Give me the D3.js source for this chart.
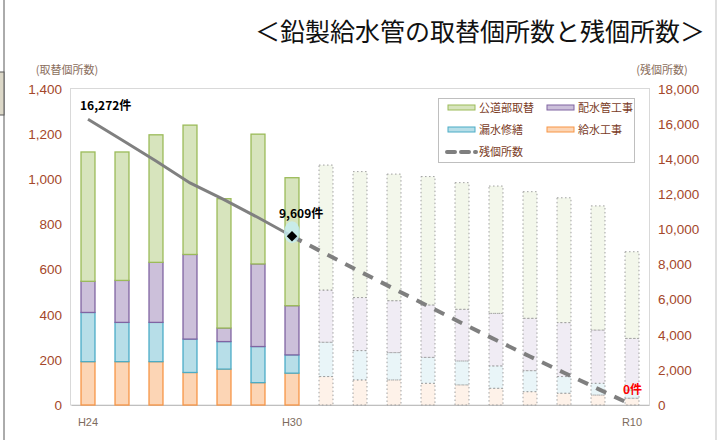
<!DOCTYPE html>
<html><head><meta charset="utf-8">
<script src="https://cdn.jsdelivr.net/npm/d3@7"></script>
<style>
html,body{margin:0;padding:0;background:#fff;}
svg{display:block;}
</style>
</head><body>
<svg id="c" width="719" height="440"></svg>
<script>
const categories = ["H24","H25","H26","H27","H28","H29","H30","R1","R2","R3","R4","R5","R6","R7","R8","R9","R10"];
const tickLabels = ["H24","H30","R10"];
const seriesNames = ["給水工事","漏水修繕","配水管工事","公道部取替"];
const kyusui   = [192,192,192,144,159, 99,141,126,111,111, 96, 89, 74, 59, 52, 44, 30];
const rosui    = [218,174,174,148,122,160, 81,152,130,121,115,106, 99, 93, 74, 52, 36];
const haisui   = [138,186,266,375, 60,366,218,231,235,230,232,229,233,232,239,236,229];
const kodo     = [573,569,565,573,573,575,567,554,558,561,569,561,564,561,553,550,384];
const remaining = [16272,15100,13900,12650,11700,10680,9609,8600,7600,6620,5640,4660,3700,2760,1840,920,0];
const lastActual = 6;
const leftTicks = [0,200,400,600,800,1000,1200,1400];
const rightTicks = [0,2000,4000,6000,8000,10000,12000,14000,16000,18000];

const fills   = ["#fcd5b5","#b7dee8","#ccc0da","#d7e4bd"];
const strokes = ["#f79646","#4bacc6","#8064a2","#9bbb59"];
const jp = "'Noto Sans CJK JP','Noto Sans',sans-serif";
const num = "'Liberation Sans',Arial,sans-serif";
const tickColor = "#a4472a";

const svg = d3.select("#c");

// outer frame pieces
svg.append("line").attr("x1",4).attr("x2",4).attr("y1",0).attr("y2",440).attr("stroke","#595959").attr("stroke-width",1);
svg.append("rect").attr("x",-1).attr("y",72).attr("width",5).attr("height",43).attr("fill","#dcd8c8").attr("stroke","#595959");
svg.append("line").attr("x1",716).attr("x2",716).attr("y1",0).attr("y2",440).attr("stroke","#bfbfbf");

// title
svg.append("text").attr("x",480).attr("y",41).attr("text-anchor","middle")
  .attr("font-family",jp).attr("font-size",25).attr("fill","#111")
  .text("＜鉛製給水管の取替個所数と残個所数＞");

const x = d3.scaleBand().domain(categories).range([71,649]).paddingInner(0.56).paddingOuter(0.28);
const yL = d3.scaleLinear().domain([0,1400]).range([405,89]);
const yR = d3.scaleLinear().domain([0,18000]).range([405,89]);

// plot frame
svg.append("rect").attr("x",70.5).attr("y",88.5).attr("width",579).attr("height",316.5)
  .attr("fill","none").attr("stroke","#d9d9d9");

// axes
const fmt = d3.format(",");
const gl = svg.append("g").attr("transform","translate(70,0)")
  .call(d3.axisLeft(yL).tickValues(leftTicks).tickSize(0).tickPadding(8).tickFormat(fmt));
const gr = svg.append("g").attr("transform","translate(650,0)")
  .call(d3.axisRight(yR).tickValues(rightTicks).tickSize(0).tickPadding(8).tickFormat(fmt));
[gl,gr].forEach(g=>{
  g.select(".domain").remove();
  g.selectAll("text").attr("font-family",num).attr("font-size",13.5).attr("fill",tickColor);
});
const gx = svg.append("g").attr("transform","translate(0,405)")
  .call(d3.axisBottom(x).tickValues(tickLabels).tickSize(0).tickPadding(13));
gx.select(".domain").attr("stroke","#bfbfbf");
gx.selectAll("text").attr("font-family",num).attr("font-size",11).attr("fill","#7d6b5d");

// axis titles
svg.append("text").attr("x",67).attr("y",74).attr("text-anchor","middle").attr("font-family",jp)
  .attr("font-size",11).attr("fill","#8a6e5c").text("(取替個所数)");
svg.append("text").attr("x",662).attr("y",74).attr("text-anchor","middle").attr("font-family",jp)
  .attr("font-size",11).attr("fill","#8a6e5c").text("(残個所数)");

// stacked bars
const rows = categories.map((c,i)=>({cat:c, i:i, s0:kyusui[i], s1:rosui[i], s2:haisui[i], s3:kodo[i]}));
const stack = d3.stack().keys(["s0","s1","s2","s3"])(rows);
stack.forEach((layer,k)=>{
  svg.append("g").selectAll("rect").data(layer).join("rect")
    .attr("x",d=>x(d.data.cat)+0.5)
    .attr("y",d=>yL(d[1]))
    .attr("width",x.bandwidth()-1)
    .attr("height",d=>yL(d[0])-yL(d[1]))
    .attr("fill",fills[k])
    .attr("fill-opacity",d=>d.data.i<=lastActual?1:0.3)
    .attr("stroke",d=>d.data.i<=lastActual?strokes[k]:"#a0a0a0")
    .attr("stroke-width",d=>d.data.i<=lastActual?1.3:1)
    .attr("stroke-dasharray",d=>d.data.i<=lastActual?null:"1.5,2.5");
});

// legend
const lg = svg.append("g");
lg.append("rect").attr("x",438.5).attr("y",98.5).attr("width",196).attr("height",64)
  .attr("fill","#fff").attr("stroke","#bfbfbf");
const legItems = [
  {name:"公道部取替",k:3,x:448,y:108},
  {name:"配水管工事",k:2,x:547,y:108},
  {name:"漏水修繕",k:1,x:448,y:130},
  {name:"給水工事",k:0,x:547,y:130}
];
legItems.forEach(it=>{
  lg.append("rect").attr("x",it.x).attr("y",it.y-3).attr("width",27).attr("height",5)
    .attr("fill",fills[it.k]).attr("stroke",strokes[it.k]).attr("stroke-width",1);
  lg.append("text").attr("x",it.x+31).attr("y",it.y+4).attr("font-family",jp).attr("font-size",11)
    .attr("fill","#7a3b1e").text(it.name);
});
lg.append("line").attr("x1",447).attr("x2",476).attr("y1",152).attr("y2",152)
  .attr("stroke","#7f7f7f").attr("stroke-width",4).attr("stroke-dasharray","8,6").attr("stroke-linecap","round");
lg.append("text").attr("x",479).attr("y",156).attr("font-family",jp).attr("font-size",11)
  .attr("fill","#7a3b1e").text("残個所数");

// remaining line
const cx = c => x(c)+x.bandwidth()/2;
const pts = categories.map((c,i)=>[cx(c), yR(remaining[i])]);
const line = d3.line();
svg.append("path").attr("d",line(pts.slice(0,lastActual+1)))
  .attr("fill","none").attr("stroke","#808080").attr("stroke-width",3);
svg.append("path").attr("d",line(pts.slice(lastActual)))
  .attr("fill","none").attr("stroke","#7f7f7f").attr("stroke-width",4).attr("stroke-dasharray","11,9");

// highlight + marker at H30
const p30 = pts[lastActual];
svg.append("ellipse").attr("cx",p30[0]).attr("cy",p30[1]-4).attr("rx",8).attr("ry",11)
  .attr("fill","#c6eef4").attr("opacity",0.8);
svg.append("path").attr("d",d3.symbol().type(d3.symbolDiamond2).size(70)())
  .attr("transform",`translate(${p30[0]},${p30[1]})`).attr("fill","#000");

// data labels
svg.append("text").attr("x",pts[0][0]-8).attr("y",pts[0][1]-9).attr("font-family",jp)
  .attr("font-size",12).attr("font-weight","bold").attr("fill","#000").text(fmt(remaining[0])+"件");
svg.append("text").attr("x",p30[0]-13).attr("y",p30[1]-18).attr("font-family",jp)
  .attr("font-size",12).attr("font-weight","bold").attr("fill","#000").text(fmt(remaining[lastActual])+"件");
const pEnd = pts[pts.length-1];
svg.append("text").attr("x",pEnd[0]-9).attr("y",pEnd[1]-11).attr("font-family",jp)
  .attr("font-size",12).attr("font-weight","bold").attr("fill","#ff0000").text(fmt(remaining[remaining.length-1])+"件");
</script>
</body></html>
